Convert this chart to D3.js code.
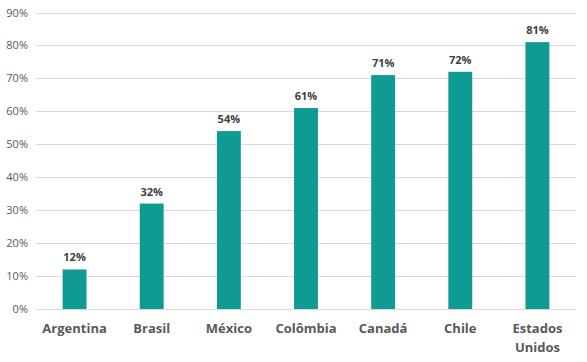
<!DOCTYPE html>
<html><head><meta charset="utf-8">
<script src="https://cdn.jsdelivr.net/npm/d3@7"></script>
<style>body{margin:0;background:#fff}svg{display:block}</style>
</head><body>
<svg id="c" width="587" height="362"></svg>
<script>
const categories = ["Argentina","Brasil","México","Colômbia","Canadá","Chile","Estados Unidos"];
const values = [12,32,54,61,71,72,81];
const yTicks = [0,10,20,30,40,50,60,70,80,90];

const svg = d3.select("#c");
const m = {left:36, right:11, top:12.5, bottom:53};
const W = 587, H = 362;
const x = d3.scaleBand().domain(categories).range([m.left, W-m.right]).paddingInner(0.69).paddingOuter(0.345);
const y = d3.scaleLinear().domain([0,90]).range([H-m.bottom, m.top]);
const font = "'Open Sans', 'Noto Sans', sans-serif";

// gridlines
svg.append("g").selectAll("line").data(yTicks).join("line")
  .attr("x1", m.left).attr("x2", W-m.right)
  .attr("y1", d=>Math.round(y(d))+0.5).attr("y2", d=>Math.round(y(d))+0.5)
  .attr("stroke", "#d9d9d9").attr("stroke-width", 1);

// y axis labels
const yAxis = d3.axisLeft(y).tickValues(yTicks).tickFormat(d=>d+"%").tickSize(0).tickPadding(8);
const ya = svg.append("g").attr("transform", `translate(${m.left},0)`).call(yAxis);
ya.select(".domain").remove();
ya.selectAll("text").attr("fill","#595959").style("font-family",font).style("font-size","11px");

// bars
svg.append("g").selectAll("rect").data(values).join("rect")
  .attr("x", (d,i)=>x(categories[i])).attr("width", x.bandwidth())
  .attr("y", d=>y(d)).attr("height", d=>y(0)-y(d))
  .attr("fill", "#0f9a94");

// value labels
svg.append("g").selectAll("text").data(values).join("text")
  .attr("x", (d,i)=>x(categories[i])+x.bandwidth()/2)
  .attr("y", d=>y(d)-8)
  .attr("text-anchor","middle").attr("fill","#404040")
  .style("font-family",font).style("font-size","11px").style("font-weight","bold")
  .text(d=>d+"%");

// x axis
const xa = svg.append("g").attr("transform", `translate(0,${y(0)})`)
  .call(d3.axisBottom(x).tickSize(0).tickPadding(0));
xa.select(".domain").remove();
xa.selectAll("text").remove();
xa.selectAll(".tick").each(function(d){
  const words = d === "Estados Unidos" ? ["Estados","Unidos"] : [d];
  const t = d3.select(this).append("text")
    .attr("text-anchor","middle").attr("fill","#595959")
    .style("font-family",font).style("font-size","13px").style("font-weight","bold");
  words.forEach((w,i)=>t.append("tspan").attr("x",0).attr("y",24+i*19).text(w));
});
</script>
</body></html>
